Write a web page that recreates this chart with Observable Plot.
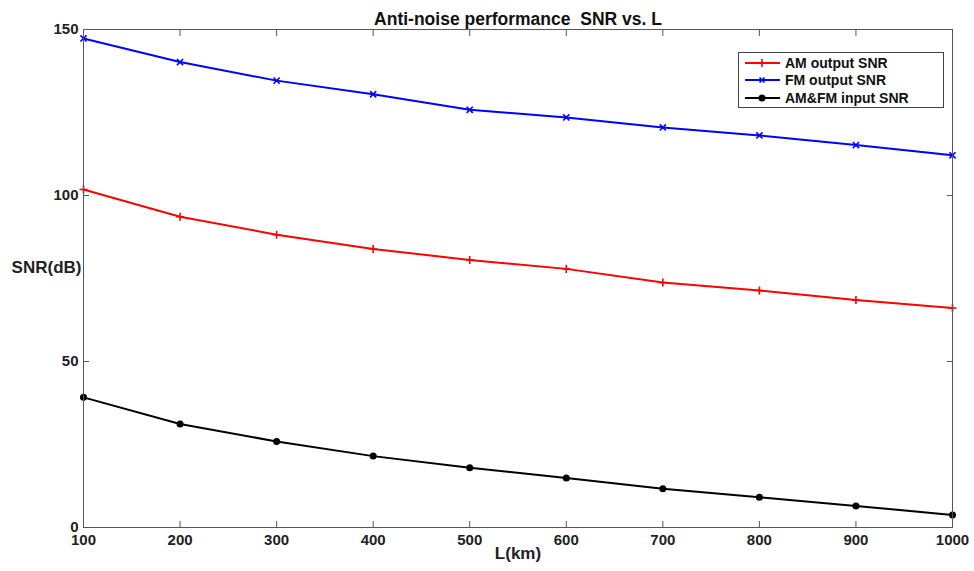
<!DOCTYPE html>
<html>
<head>
<meta charset="utf-8">
<script src="https://cdn.jsdelivr.net/npm/d3@7"></script>
<script src="https://cdn.jsdelivr.net/npm/@observablehq/plot@0.6"></script>
<style>
  html, body { margin: 0; padding: 0; background: #fff; }
  #wrap { position: relative; width: 974px; height: 571px; font-family: "Liberation Sans", Arial, sans-serif; }
  #legend { position: absolute; left: 738px; top: 52px; width: 206px; height: 56px; border: 1px solid #444; background: #fff; box-sizing: border-box; font-weight: bold; font-size: 14px; color: #111; }
  .row { position: absolute; left: 6px; height: 17px; display: flex; align-items: center; white-space: nowrap; }
  .row svg { margin-right: 5px; }
</style>
</head>
<body>
<div id="wrap"></div>
<script>
const title = "Anti-noise performance  SNR vs. L";
const xLabel = "L(km)";
const yLabel = "SNR(dB)";
const L = [100, 200, 300, 400, 500, 600, 700, 800, 900, 1000];
const amOutput = [101.8, 93.6, 88.2, 83.9, 80.6, 77.9, 73.8, 71.4, 68.5, 66.1];
const fmOutput = [147.3, 140.2, 134.6, 130.5, 125.8, 123.5, 120.5, 118.1, 115.2, 112.1];
const amfmInput = [39.2, 31.2, 25.9, 21.5, 18.0, 14.9, 11.7, 9.1, 6.5, 3.8];
const seriesNames = ["AM output SNR", "FM output SNR", "AM&FM input SNR"];
const seriesColors = ["#ff0000", "#0000ff", "#000000"];
const seriesSymbols = ["plus", "times", "circle"];
const xTicks = [100, 200, 300, 400, 500, 600, 700, 800, 900, 1000];
const yTicks = [0, 50, 100, 150];

const seriesValues = [amOutput, fmOutput, amfmInput];
const rows = [];
seriesValues.forEach((vals, i) => vals.forEach((v, j) => rows.push({series: seriesNames[i], L: L[j], snr: v})));

const marks = [];
seriesNames.forEach((name, i) => {
  const d = rows.filter(r => r.series === name);
  marks.push(Plot.line(d, {x: "L", y: "snr", stroke: seriesColors[i], strokeWidth: 2}));
  if (seriesSymbols[i] === "circle") {
    marks.push(Plot.dot(d, {x: "L", y: "snr", r: 3.5, fill: seriesColors[i], stroke: "none"}));
  } else {
    marks.push(Plot.dot(d, {x: "L", y: "snr", r: seriesSymbols[i] === "plus" ? 2.7 : 2.9, symbol: seriesSymbols[i], stroke: seriesColors[i], strokeWidth: 1.6}));
  }
});

const fmt = d3.format("d");
const chart = Plot.plot({
  width: 974,
  height: 571,
  marginLeft: 83,
  marginRight: 22,
  marginTop: 29,
  marginBottom: 44,
  style: {fontFamily: "Liberation Sans, Arial, sans-serif", fontWeight: "bold", fontSize: "15px", color: "#222", background: "#fff"},
  x: {domain: [100, 1000]},
  y: {domain: [0, 150]},
  marks: [
    ...marks,
    Plot.frame({stroke: "#555", strokeWidth: 1}),
    Plot.axisX(xTicks, {anchor: "bottom", tickSize: 0, tickPadding: 7, tickFormat: fmt, label: null, fill: "#222", fontSize: 15, fontWeight: "bold"}),
    Plot.axisX(xTicks, {anchor: "bottom", tickSize: -6, tickFormat: () => "", label: null, stroke: "#555"}),
    Plot.axisX(xTicks, {anchor: "top", tickSize: -6, tickFormat: () => "", label: null, stroke: "#555"}),
    Plot.axisY(yTicks, {anchor: "left", tickSize: 0, tickPadding: 5, tickFormat: fmt, label: null, fill: "#222", fontSize: 15, fontWeight: "bold"}),
    Plot.axisY(yTicks, {anchor: "left", tickSize: -6, tickFormat: () => "", label: null, stroke: "#555"}),
    Plot.axisY(yTicks, {anchor: "right", tickSize: -6, tickFormat: () => "", label: null, stroke: "#555"}),
    Plot.text([title], {frameAnchor: "top", dy: -17, text: d => d, fontSize: 17.5, fontWeight: "bold", fill: "#111"}),
    Plot.text([xLabel], {frameAnchor: "bottom", dy: 31, text: d => d, fontSize: 17, fontWeight: "bold", fill: "#222"}),
    Plot.text([yLabel], {frameAnchor: "left", dx: -2, dy: -11, textAnchor: "end", text: d => d, fontSize: 17, fontWeight: "bold", fill: "#222"})
  ]
});
const wrap = document.getElementById("wrap");
wrap.appendChild(chart);

// legend
const legend = document.createElement("div");
legend.id = "legend";
seriesNames.forEach((name, i) => {
  const row = document.createElement("div");
  row.className = "row";
  row.style.top = (1.5 + i * 17.3) + "px";
  let marker;
  if (seriesSymbols[i] === "plus") marker = `<path d="M17,-4V4M13,0H21" stroke="${seriesColors[i]}" stroke-width="1.6"/>`;
  else if (seriesSymbols[i] === "times") marker = `<path d="M14.5,-2.5L19.5,2.5M14.5,2.5L19.5,-2.5" stroke="${seriesColors[i]}" stroke-width="1.6"/>`;
  else marker = `<circle cx="17" cy="0" r="3.5" fill="${seriesColors[i]}"/>`;
  row.innerHTML = `<svg width="35" height="10" viewBox="0 -5 35 10"><line x1="0" x2="35" y1="0" y2="0" stroke="${seriesColors[i]}" stroke-width="2"/>${marker}</svg><span>${name}</span>`;
  legend.appendChild(row);
});
wrap.appendChild(legend);
</script>
</body>
</html>
